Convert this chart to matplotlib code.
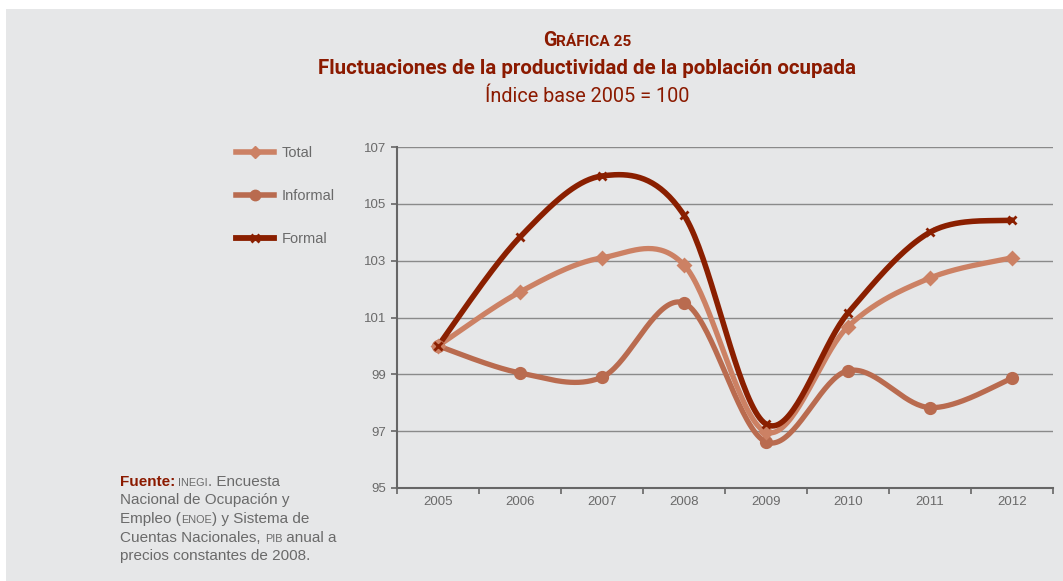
import numpy as np
import matplotlib
matplotlib.use("Agg")
import matplotlib.pyplot as plt
from matplotlib.lines import Line2D
from matplotlib.patches import Rectangle
from matplotlib.offsetbox import TextArea, HPacker, VPacker, AnnotationBbox

years = ["2005", "2006", "2007", "2008", "2009", "2010", "2011", "2012"]
total = [100.0, 101.9, 103.1, 102.85, 96.97, 100.68, 102.39, 103.1]
informal = [100.0, 99.05, 98.9, 101.51, 96.62, 99.13, 97.83, 98.86]
formal = [100.0, 103.83, 105.98, 104.6, 97.25, 101.16, 104.0, 104.43]
yticks = [95, 97, 99, 101, 103, 105, 107]

C_TOTAL = "#cc8164"
C_INF = "#b96b4f"
C_FORM = "#8a1f00"
C_TITLE = "#8b1a00"
C_TEXT = "#6a6a6a"
BG = "#e6e7e8"

def smooth(xs, ys, n=40):
    xs = np.asarray(xs, float); ys = np.asarray(ys, float)
    P = np.column_stack([xs, ys])
    Pe = np.vstack([P[0], P, P[-1]])
    out = []
    for i in range(len(P) - 1):
        p0, p3 = P[i], P[i + 1]
        c1 = p0 + (Pe[i + 2] - Pe[i]) / 6.0
        c2 = p3 - (Pe[i + 3] - Pe[i + 1]) / 6.0
        t = np.linspace(0, 1, n)[:, None]
        seg = (1 - t) ** 3 * p0 + 3 * (1 - t) ** 2 * t * c1 + 3 * (1 - t) * t ** 2 * c2 + t ** 3 * p3
        out.append(seg if i == 0 else seg[1:])
    s = np.vstack(out)
    return s[:, 0], s[:, 1]

W, H = 1063, 581
fig = plt.figure(figsize=(W / 100, H / 100), dpi=100)
fig.patch.set_facecolor("white")
fig.add_artist(Rectangle((6 / W, 0), 1, 1 - 9 / H, transform=fig.transFigure,
                         facecolor=BG, edgecolor="none", zorder=-10))

ax = fig.add_axes([397 / W, 1 - 488 / H, (1053 - 397) / W, (488 - 147) / H])
ax.set_facecolor("none")
x = np.arange(len(years))

series = [(informal, C_INF, "o", 7.5, 3.8, "Informal"),
          (total, C_TOTAL, "D", 6, 3.8, "Total"),
          (formal, C_FORM, "x", 6, 4.0, "Formal")]
for vals, col, mk, ms, lw, lab in series:
    sx, sy = smooth(x, vals)
    ax.plot(sx, sy, color=col, lw=lw, solid_capstyle="round", zorder=3)
    ax.plot(x, vals, ls="none", marker=mk, ms=ms, color=col, mew=2, zorder=4)

ax.set_xlim(-0.5, len(years) - 0.5)
ax.set_ylim(95, 107)
ax.set_yticks(yticks)
ax.set_yticklabels([str(v) for v in yticks])
ax.yaxis.grid(True, color="#8a8a8a", lw=1.0)
ax.set_axisbelow(True)
ax.set_xticks(np.arange(-0.5, len(years), 1.0))
ax.set_xticklabels([])
ax.set_xticks(x, minor=True)
ax.set_xticklabels(years, minor=True)
ax.tick_params(axis="x", which="minor", length=0, pad=6, labelsize=9.5, labelcolor=C_TEXT)
ax.tick_params(axis="x", which="major", length=4, width=1.2, color="#666666", direction="out")
ax.tick_params(axis="y", length=4, width=1.2, color="#666666", pad=4, labelsize=9.5, labelcolor=C_TEXT)
for s in ["top", "right"]:
    ax.spines[s].set_visible(False)
for s in ["left", "bottom"]:
    ax.spines[s].set_color("#666666")
    ax.spines[s].set_linewidth(1.5)
for lab in ax.get_yticklabels() + ax.get_xticklabels(minor=True):
    lab.set_family("Liberation Sans")

# Legend
handles = [Line2D([], [], color=C_TOTAL, lw=4, marker="D", ms=6),
           Line2D([], [], color=C_INF, lw=4, marker="o", ms=7.5),
           Line2D([], [], color=C_FORM, lw=4.2, marker="x", ms=6, mew=2)]
leg = fig.legend(handles, ["Total", "Informal", "Formal"], loc="upper left",
                 bbox_to_anchor=(236 / W, 1 - 146 / H), frameon=False,
                 prop={"family": "Liberation Sans", "size": 10.5},
                 handlelength=2.6, handletextpad=0.55, labelspacing=2.0,
                 borderpad=0, borderaxespad=0, numpoints=1)
for t in leg.get_texts():
    t.set_color(C_TEXT)

# Titles
tf = "Roboto"
g1 = TextArea("G", textprops=dict(size=14.3, weight="bold", color=C_TITLE, family=tf))
g2 = TextArea("RÁFICA 25", textprops=dict(size=11.1, weight="bold", color=C_TITLE, family=tf))
hp = HPacker(children=[g1, g2], align="baseline", pad=0, sep=0)
ab = AnnotationBbox(hp, (587 / W, 1 - 41 / H), xycoords="figure fraction", frameon=False,
                    box_alignment=(0.5, 0.5), pad=0)
fig.add_artist(ab)
fig.text(587 / W, 1 - 68.5 / H, "Fluctuaciones de la productividad de la población ocupada",
         ha="center", va="center", fontsize=14.8, weight="bold", color=C_TITLE, family=tf)
fig.text(587 / W, 1 - 97 / H, "Índice base 2005 = 100", ha="center", va="center",
         fontsize=14.3, color=C_TITLE, family=tf)

# Source note
fs = 11.0
sc = 7.8
def ta(s, size=fs, color=C_TEXT, weight="normal"):
    return TextArea(s, textprops=dict(size=size, color=color, weight=weight, family="Liberation Sans"))
lines = [
    [ta("Fuente:", color=C_TITLE, weight="bold"), ta(" INEGI", size=sc), ta(". Encuesta")],
    [ta("Nacional de Ocupación y")],
    [ta("Empleo ("), ta("ENOE", size=sc), ta(") y Sistema de")],
    [ta("Cuentas Nacionales, "), ta("PIB", size=sc), ta(" anual a")],
    [ta("precios constantes de 2008.")],
]
rows = [HPacker(children=l, align="baseline", pad=0, sep=0) for l in lines]
vp = VPacker(children=rows, align="left", pad=0, sep=3.4)
ab2 = AnnotationBbox(vp, (120 / W, 1 - 474.5 / H), xycoords="figure fraction", frameon=False,
                     box_alignment=(0, 1), pad=0)
fig.add_artist(ab2)

fig.savefig("out.png", dpi=100, facecolor=fig.get_facecolor())
